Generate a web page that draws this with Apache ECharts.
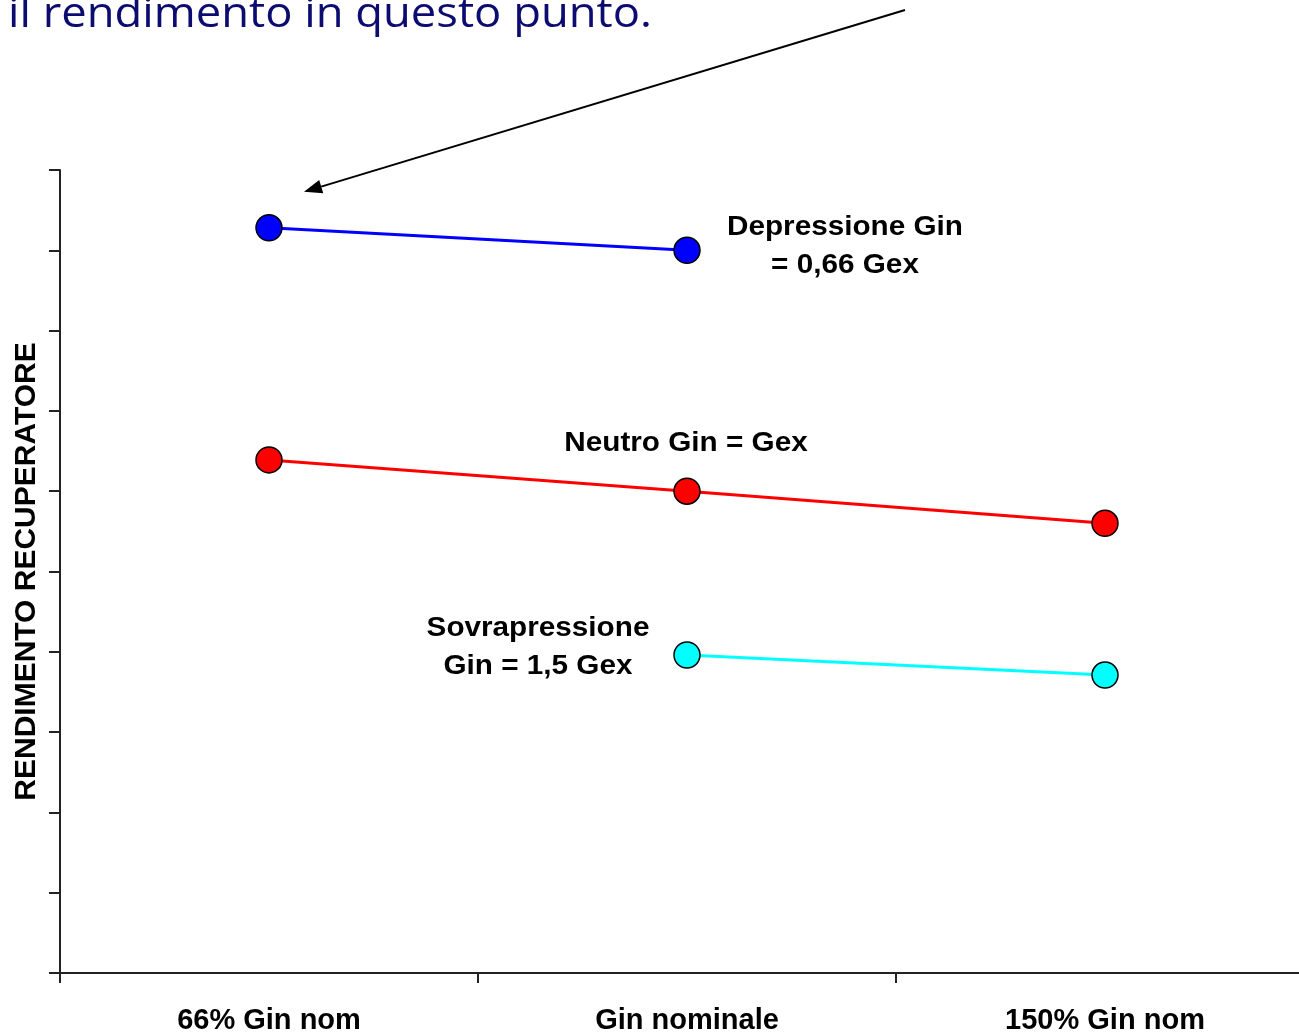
<!DOCTYPE html>
<html>
<head>
<meta charset="utf-8">
<script src="https://cdn.jsdelivr.net/npm/echarts@6/dist/echarts.min.js"></script>
<style>
  html, body { margin: 0; padding: 0; background: #fff; overflow: hidden; }
  /* the plot runs slightly past the right edge of the page */
  #chart { width: 1314px; height: 1035px; }
</style>
</head>
<body>
<div id="chart"></div>
<script>
// Categories on the x axis (inlet flow relative to nominal)
const categories = ['66% Gin nom', 'Gin nominale', '150% Gin nom'];

// Recuperator efficiency, arbitrary units (0–10 scale, no tick labels)
const depressione = [9.28, 9.00, null];
const neutro = [6.39, 6.00, 5.60];
const sovrapressione = [null, 3.96, 3.71];

const yMin = 0, yMax = 10, yStep = 1;

const chart = echarts.init(document.getElementById('chart'));

function lineSeries(name, data, color) {
  return {
    name: name,
    type: 'line',
    data: data,
    symbol: 'circle',
    symbolSize: 26,
    connectNulls: false,
    lineStyle: { color: color, width: 3 },
    itemStyle: { color: color, borderColor: '#000', borderWidth: 1.5 },
    emphasis: { disabled: true },
    z: 3
  };
}

chart.setOption({
  animation: false,
  backgroundColor: '#fff',
  grid: { left: 60, top: 170, right: 0, bottom: 62 },
  xAxis: {
    type: 'category',
    data: categories,
    boundaryGap: true,
    axisLine: { lineStyle: { color: '#222', width: 2 } },
    axisTick: { show: true, interval: 0, alignWithLabel: false, length: 10, lineStyle: { color: '#222', width: 2 } },
    axisLabel: {
      margin: 33,
      interval: 0,
      color: '#000',
      fontFamily: 'Liberation Sans, Arial, sans-serif',
      fontWeight: 'bold',
      fontSize: 29
    },
    splitLine: { show: false }
  },
  yAxis: {
    type: 'value',
    min: yMin,
    max: yMax,
    interval: yStep,
    name: 'RENDIMENTO RECUPERATORE',
    nameLocation: 'middle',
    nameRotate: 90,
    nameGap: 18,
    nameTextStyle: {
      color: '#000',
      fontFamily: 'Liberation Sans, Arial, sans-serif',
      fontWeight: 'bold',
      fontSize: 30
    },
    axisLine: { show: true, lineStyle: { color: '#222', width: 2 } },
    axisTick: { show: true, length: 11, lineStyle: { color: '#222', width: 2 } },
    axisLabel: { show: false },
    splitLine: { show: false }
  },
  series: [
    lineSeries('Depressione Gin = 0,66 Gex', depressione, '#0000ff'),
    lineSeries('Neutro Gin = Gex', neutro, '#ff0000'),
    lineSeries('Sovrapressione Gin = 1,5 Gex', sovrapressione, '#00ffff')
  ]
});

// Annotation texts and the arrow pointing at the first depression point
const labelFont = { fontFamily: 'Liberation Sans, Arial, sans-serif', fontWeight: 'bold', fontSize: 27, fill: '#000' };
const tip = chart.convertToPixel({ gridIndex: 0 }, [0, depressione[0]]);
const tipX = tip[0] + 35, tipY = tip[1] - 36;
const tailX = 905, tailY = 10;
const dx = tipX - tailX, dy = tipY - tailY;
const len = Math.sqrt(dx * dx + dy * dy);
const ux = dx / len, uy = dy / len;
const headLen = 18, headHalf = 7;
const baseX = tipX - ux * headLen, baseY = tipY - uy * headLen;

function note(text, x, y) {
  return {
    type: 'text', x: x, y: y, scaleX: 1.1,
    style: Object.assign({ text: text, align: 'center', verticalAlign: 'middle', lineHeight: 38 }, labelFont)
  };
}

chart.setOption({
  graphic: [
    {
      type: 'text', x: 8, y: -6, scaleX: 1.08,
      style: {
        text: 'il rendimento in questo punto.',
        fontFamily: 'Open Sans, Noto Sans, sans-serif',
        fontSize: 42,
        verticalAlign: 'top',
        fill: '#0b0b70'
      }
    },
    note('Depressione Gin\n= 0,66 Gex', 845, 247),
    note('Neutro Gin = Gex', 686, 444),
    note('Sovrapressione\nGin = 1,5 Gex', 538, 648),
    {
      type: 'line',
      shape: { x1: tailX, y1: tailY, x2: baseX, y2: baseY },
      style: { stroke: '#000', lineWidth: 2 }
    },
    {
      type: 'polygon',
      shape: {
        points: [
          [tipX, tipY],
          [baseX - uy * headHalf, baseY + ux * headHalf],
          [baseX + uy * headHalf, baseY - ux * headHalf]
        ]
      },
      style: { fill: '#000' }
    }
  ]
});
</script>
</body>
</html>
